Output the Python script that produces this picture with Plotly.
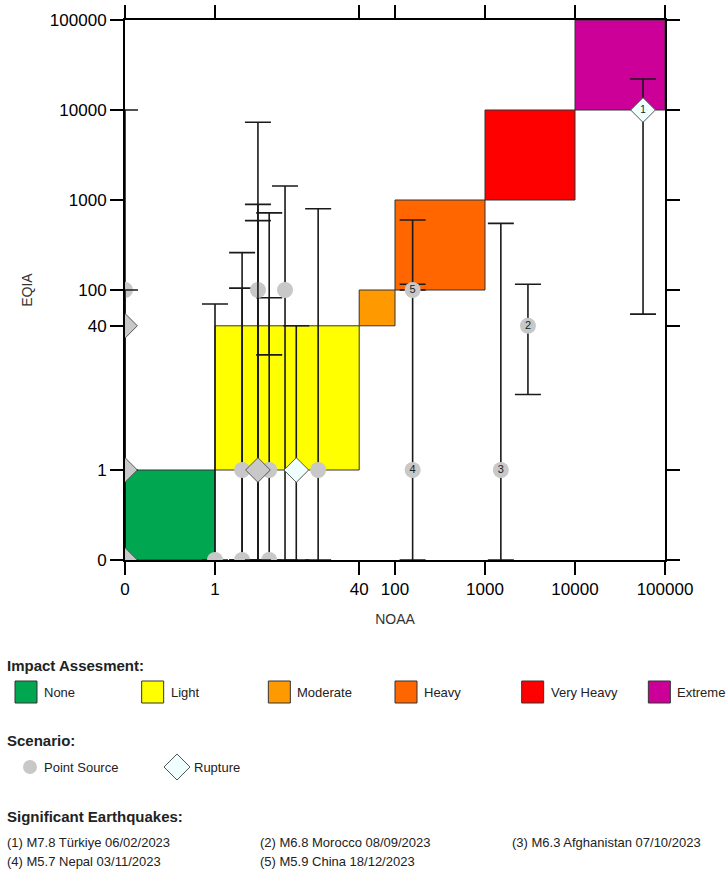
import plotly.graph_objects as go

# ---------------- data ----------------
level_names = ["None", "Light", "Moderate", "Heavy", "Very Heavy", "Extreme"]
level_bounds = [0, 1, 40, 100, 1000, 10000, 100000]
level_colors = ["#00A650", "#FFFF00", "#FF9900", "#FF6600", "#FF0000", "#CC0099"]

tick_values = [0, 1, 40, 100, 1000, 10000, 100000]
tick_labels = ["0", "1", "40", "100", "1000", "10000", "100000"]

# Point-source scenarios: NOAA, EQIA, lower bound, upper bound, label
ps_noaa = [0, 1, 2, 2, 3, 3, 4, 4, 6, 14, 3000, 1500, 157, 157]
ps_eqia = [100, 0, 1, 0, 100, 1, 1, 0, 100, 1, 40, 1, 1, 100]
ps_low = [0, 0, 0, 0, 0, 0, 19, 0, 0, 0, 6.9, 0, 0, 100]
ps_high = [10000, 70, 105, 260, 895, 590, 720, 82, 1430, 800, 116, 550, 116, 600]
ps_label = ["", "", "", "", "", "", "", "", "", "", "2", "3", "4", "5"]

# Rupture scenarios
rup_noaa = [0, 0, 0, 3, 8, 57000]
rup_eqia = [40, 1, 0, 1, 1, 10000]
rup_low = [0, 1, 0, 0, 0, 54]
rup_high = [100, 1, 0, 7300, 40, 22100]
rup_label = ["", "", "", "", "", "1"]

quake_list = [
    "(1) M7.8 Türkiye 06/02/2023",
    "(2) M6.8 Morocco 08/09/2023",
    "(3) M6.3 Afghanistan 07/10/2023",
    "(4) M5.7 Nepal 03/11/2023",
    "(5) M5.9 China 18/12/2023",
]

# ---------------- scale helper: 0 is drawn one decade below 1 ----------------
ZERO_AT = 0.1


def pos(v):
    return v if v > 0 else ZERO_AT


def err_plus(vals, highs):
    return [pos(h) - pos(v) for v, h in zip(vals, highs)]


def err_minus(vals, lows):
    return [pos(v) - pos(l) for v, l in zip(vals, lows)]


fig = go.Figure()

# impact boxes
for i, name in enumerate(level_names):
    fig.add_shape(
        type="rect", xref="x", yref="y", layer="below",
        x0=pos(level_bounds[i]), x1=pos(level_bounds[i + 1]),
        y0=pos(level_bounds[i]), y1=pos(level_bounds[i + 1]),
        fillcolor=level_colors[i], line=dict(color="#333333", width=1),
    )

ERR_STYLE = dict(type="data", symmetric=False, color="#1a1a1a", thickness=1.6, width=13)

fig.add_trace(go.Scatter(
    x=[pos(v) for v in ps_noaa], y=[pos(v) for v in ps_eqia],
    mode="markers+text", text=ps_label, textposition="middle center",
    textfont=dict(family="Liberation Sans", size=11, color="#222222"),
    marker=dict(symbol="circle", size=16, color="#C8C8C8", line=dict(width=0)),
    error_y=dict(array=err_plus(ps_eqia, ps_high), arrayminus=err_minus(ps_eqia, ps_low), **ERR_STYLE),
    hoverinfo="x+y", name="Point Source",
))

fig.add_trace(go.Scatter(
    x=[pos(v) for v in rup_noaa], y=[pos(v) for v in rup_eqia],
    mode="markers+text", text=rup_label, textposition="middle center",
    textfont=dict(family="Liberation Sans", size=10, color="#222222"),
    marker=dict(symbol="diamond", size=19,
                color=["#C8C8C8", "#C8C8C8", "#C8C8C8", "#C8C8C8", "#F0FFFF", "#F0FFFF"],
                line=dict(color="#555555", width=1)),
    error_y=dict(array=err_plus(rup_eqia, rup_high), arrayminus=err_minus(rup_eqia, rup_low), **ERR_STYLE),
    hoverinfo="x+y", name="Rupture",
))

axis_common = dict(
    type="log", range=[-1, 5], automargin=False,
    tickmode="array", tickvals=[pos(v) for v in tick_values], ticktext=tick_labels,
    ticks="outside", ticklen=13, tickwidth=2, tickcolor="black",
    showline=True, linewidth=2, linecolor="black", mirror="ticks",
    showgrid=False, zeroline=False,
    tickfont=dict(family="Liberation Sans", size=17, color="black"),
)

fig.update_layout(
    width=727, height=875,
    margin=dict(l=125, r=62, t=20, b=315, autoexpand=False),
    plot_bgcolor="white", paper_bgcolor="white",
    showlegend=False,
    xaxis=dict(**axis_common, title=dict(text="NOAA", standoff=16,
               font=dict(family="Liberation Sans", size=14, color="#333333"))),
    yaxis=dict(**axis_common, title=dict(text="EQIA", standoff=14,
               font=dict(family="Liberation Sans", size=14, color="#333333"))),
)

# ---------------- custom legend below the plot (pixel -> paper) ----------------
PL, PT, PW, PH = 125, 20, 540, 540


def px(x):
    return (x - PL) / PW


def py(y):
    return (PT + PH - y) / PH


def label(x, y, text, size=13, bold=False):
    fig.add_annotation(
        xref="paper", yref="paper", x=px(x), y=py(y), xanchor="left", yanchor="middle",
        text=("<b>%s</b>" % text) if bold else text, showarrow=False,
        font=dict(family="Liberation Sans", size=size, color="#222222"),
    )


label(5, 665, "Impact Assesment:", size=15, bold=True)
for i, name in enumerate(level_names):
    x0 = 15 + i * 126.67
    fig.add_shape(type="rect", xref="paper", yref="paper",
                  x0=px(x0), x1=px(x0 + 22), y0=py(681), y1=py(703),
                  fillcolor=level_colors[i], line=dict(color="#333333", width=1))
    label(x0 + 27, 692, name)

label(5, 740, "Scenario:", size=15, bold=True)
fig.add_shape(type="circle", xref="paper", yref="paper",
              x0=px(23), x1=px(37), y0=py(774), y1=py(760),
              fillcolor="#C8C8C8", line=dict(width=0))
label(42, 767, "Point Source")
cx, cy, d = 177, 767, 13
fig.add_shape(type="path", xref="paper", yref="paper",
              path="M %f %f L %f %f L %f %f L %f %f Z" % (
                  px(cx - d), py(cy), px(cx), py(cy - d), px(cx + d), py(cy), px(cx), py(cy + d)),
              fillcolor="#F0FFFF", line=dict(color="#555555", width=1))
label(192, 767, "Rupture")

label(5, 816, "Significant Earthquakes:", size=15, bold=True)
col_x = [5, 258, 510]
for i, q in enumerate(quake_list):
    label(col_x[i % 3], 842 + (i // 3) * 19, q, size=13)

fig.write_html("out.html")
